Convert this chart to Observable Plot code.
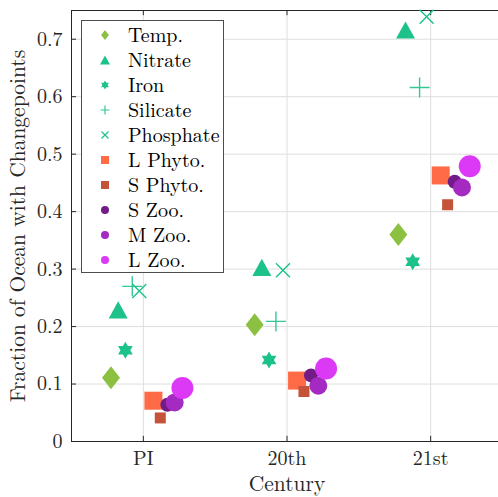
<!DOCTYPE html>
<html><head><meta charset="utf-8">
<script src="https://cdn.jsdelivr.net/npm/d3@7"></script>
<script src="https://cdn.jsdelivr.net/npm/@observablehq/plot@0.6"></script>
<style>
body{margin:0;background:#fff;}
#wrap{position:relative;width:498px;height:497px;overflow:hidden;background:#fff;}
#legend{position:absolute;left:81px;top:20px;width:143px;height:253px;border:1px solid #4d4d4d;background:#fff;box-sizing:border-box;font-family:"Latin Modern Roman","Liberation Serif",serif;font-size:20px;color:#000;}
.row{position:absolute;left:0;height:25px;width:140px;}
.row svg{position:absolute;left:15px;top:4px;}
.row span{position:absolute;left:46px;top:-2px;line-height:25px;white-space:nowrap;}
</style></head>
<body><div id="wrap"></div>
<script>
// ---------- data ----------
const categories = ["PI", "20th", "21st"];
const seriesNames = ["Temp.", "Nitrate", "Iron", "Silicate", "Phosphate", "L Phyto.", "S Phyto.", "S Zoo.", "M Zoo.", "L Zoo."];
const temp      = [0.111, 0.203, 0.360];
const nitrate   = [0.229, 0.303, 0.716];
const iron      = [0.159, 0.142, 0.313];
const silicate  = [0.270, 0.209, 0.616];
const phosphate = [0.262, 0.298, 0.739];
const lPhyto    = [0.071, 0.106, 0.463];
const sPhyto    = [0.041, 0.087, 0.412];
const sZoo      = [0.064, 0.115, 0.452];
const mZoo      = [0.068, 0.097, 0.442];
const lZoo      = [0.093, 0.127, 0.479];
const seriesValues = [temp, nitrate, iron, silicate, phosphate, lPhyto, sPhyto, sZoo, mZoo, lZoo];
const yTicks = [0, 0.1, 0.2, 0.3, 0.4, 0.5, 0.6, 0.7];

// ---------- custom symbols (size = pi*r^2, r = half extent) ----------
const R = s => Math.sqrt(s / Math.PI);
const symDiamond = {draw(c, s){const r=R(s), w=r*0.78; c.moveTo(0,-r); c.lineTo(w,0); c.lineTo(0,r); c.lineTo(-w,0); c.closePath();}};
const symTriangle = {draw(c, s){const r=R(s), h=r*0.9; c.moveTo(0,-h); c.lineTo(r,h); c.lineTo(-r,h); c.closePath();}};
const symHexagram = {draw(c, s){const r=R(s), ri=r/Math.sqrt(3);
  for(let i=0;i<12;i++){const a=-Math.PI/2+i*Math.PI/6, rr=i%2?ri:r; const x=rr*Math.cos(a), y=rr*Math.sin(a); i?c.lineTo(x,y):c.moveTo(x,y);} c.closePath();}};
const symPlus = {draw(c, s){const r=R(s); c.moveTo(-r,0); c.lineTo(r,0); c.moveTo(0,-r); c.lineTo(0,r);}};
const symTimes = {draw(c, s){const r=R(s); c.moveTo(-r,-r); c.lineTo(r,r); c.moveTo(-r,r); c.lineTo(r,-r);}};
const symSquare = {draw(c, s){const r=R(s); c.rect(-r,-r,2*r,2*r);}};
const symCircle = {draw(c, s){const r=R(s); c.moveTo(r,0); c.arc(0,0,r,0,2*Math.PI);}};

// ---------- styles ----------
const styles = [
  {symbol: symDiamond,  color: "#8bc040", r: 11.5, lr: 5,   offset: -0.225, filled: true},
  {symbol: symTriangle, color: "#1dc28b", r: 9.5,  lr: 5,   offset: -0.175, filled: true},
  {symbol: symHexagram, color: "#1dc28b", r: 8.5,  lr: 4.5, offset: -0.125, filled: true},
  {symbol: symPlus,     color: "#35c795", r: 10,   lr: 4.5, offset: -0.077, filled: false},
  {symbol: symTimes,    color: "#1dc28b", r: 7,    lr: 3.5, offset: -0.028, filled: false},
  {symbol: symSquare,   color: "#ff6b47", r: 9,    lr: 4,   offset: 0.070,  filled: true},
  {symbol: symSquare,   color: "#c4533a", r: 5.5,  lr: 4,   offset: 0.118,  filled: true},
  {symbol: symCircle,   color: "#721c88", r: 7,    lr: 4,   offset: 0.167,  filled: true},
  {symbol: symCircle,   color: "#a52ac2", r: 9,    lr: 4,   offset: 0.218,  filled: true},
  {symbol: symCircle,   color: "#db39f6", r: 11,   lr: 4,   offset: 0.272,  filled: true}
];

const ink = "#262626";
const serif = "'Latin Modern Roman', 'Liberation Serif', serif";
const dotMarks = seriesValues.map((vals, k) => {
  const st = styles[k];
  const rows = vals.map((v, i) => ({x: i + 1 + st.offset, y: v}));
  return Plot.dot(rows, {
    x: "x", y: "y", r: st.r, symbol: st.symbol,
    fill: st.filled ? st.color : "none",
    stroke: st.filled ? "none" : st.color,
    strokeWidth: st.filled ? 0 : 1.4
  });
});

const chart = Plot.plot({
  width: 498, height: 497,
  marginLeft: 71, marginTop: 10, marginBottom: 56, marginRight: 0,
  style: {fontFamily: serif, fontSize: "20px", color: ink, background: "#fff", overflow: "hidden"},
  x: {domain: [0.5, 3.5], range: [71, 502]},
  y: {domain: [0, 0.75], range: [441, 10]},
  marks: [
    Plot.gridY(yTicks, {stroke: "#dedede", strokeOpacity: 1, strokeWidth: 1}),
    Plot.gridX([1, 2, 3], {stroke: "#dedede", strokeOpacity: 1, strokeWidth: 1}),
    Plot.axisY(yTicks, {tickSize: 0, tickPadding: 9, label: null, fill: ink, fontFamily: serif,
      tickFormat: d => d === 0 ? "0" : d.toFixed(1)}),
    Plot.axisX([1, 2, 3], {tickSize: 0, tickPadding: 9, label: null, fill: ink, fontFamily: serif,
      tickFormat: d => categories[d - 1]}),
    // inward tick marks
    Plot.ruleY(yTicks, {x1: 0.5, x2: 0.535, stroke: ink}),
    Plot.ruleX([1, 2, 3], {y1: 0, y2: 0.009, stroke: ink}),
    Plot.ruleX([1, 2, 3], {y1: 0.741, y2: 0.75, stroke: ink}),
    // axes box
    Plot.ruleX([0.5], {y1: 0, y2: 0.75, stroke: ink}),
    Plot.ruleY([0], {x1: 0.5, x2: 3.5, stroke: ink}),
    Plot.ruleY([0.75], {x1: 0.5, x2: 3.5, stroke: ink}),
    ...dotMarks,
    Plot.text(["Century"], {frameAnchor: "bottom", textAnchor: "middle", lineAnchor: "middle", dx: 2, dy: 43, fontSize: 21.5, fill: ink, fontFamily: serif}),
    Plot.text(["Fraction of Ocean with Changepoints"], {frameAnchor: "left", textAnchor: "middle", lineAnchor: "middle", rotate: -90, dx: -53, fontSize: 21.5, fill: ink, fontFamily: serif})
  ]
});

const wrap = document.getElementById("wrap");
wrap.appendChild(chart);

// ---------- legend ----------
const legend = document.createElement("div");
legend.id = "legend";
seriesNames.forEach((name, k) => {
  const st = styles[k];
  const row = document.createElement("div");
  row.className = "row";
  row.style.top = (1.5 + k * 25) + "px";
  const svg = d3.create("svg").attr("width", 16).attr("height", 16);
  svg.append("path")
    .attr("transform", "translate(8,8)")
    .attr("d", d3.symbol(st.symbol, Math.PI * st.lr * st.lr)())
    .attr("fill", st.filled ? st.color : "none")
    .attr("stroke", st.filled ? "none" : st.color)
    .attr("stroke-width", 1.2);
  row.appendChild(svg.node());
  const span = document.createElement("span");
  span.textContent = name;
  row.appendChild(span);
  legend.appendChild(row);
});
wrap.appendChild(legend);
</script>
</body></html>
